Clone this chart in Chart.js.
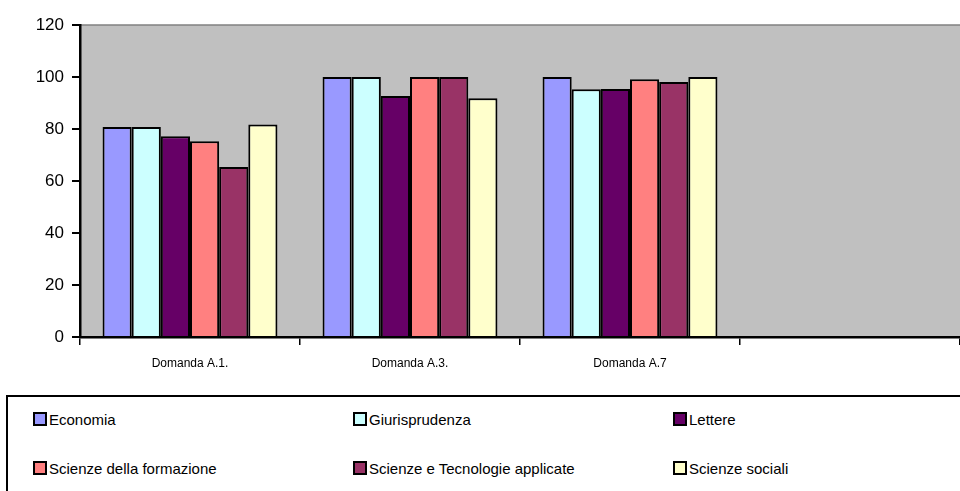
<!DOCTYPE html>
<html>
<head>
<meta charset="utf-8">
<script src="https://cdn.jsdelivr.net/npm/chart.js@4.4.1/dist/chart.umd.min.js"></script>
<style>
  body { margin: 0; background: #fff; width: 960px; height: 491px; overflow: hidden; position: relative; font-family: "Liberation Sans", Arial, sans-serif; }
  #wrap { position: absolute; left: 0; top: 0; width: 960px; height: 380px; }
  #legend { position: absolute; left: 6px; top: 395px; width: 980px; height: 120px; border: 2px solid #000; box-sizing: border-box; }
  .item { position: absolute; font-size: 15px; color: #000; line-height: 16px; white-space: nowrap; }
  .item span.box { display: inline-block; width: 10px; height: 10px; border: 2px solid #000; vertical-align: -1px; margin-right: 2px; }
</style>
</head>
<body>
<div id="wrap"><canvas id="chart"></canvas></div>
<div id="legend"></div>
<script>
// DATA
const categories = ["Domanda A.1.", "Domanda A.3.", "Domanda A.7", ""];
const seriesNames = ["Economia", "Giurisprudenza", "Lettere", "Scienze della formazione", "Scienze e Tecnologie applicate", "Scienze sociali"];
const economia = [80.8, 100, 100, null];
const giurisprudenza = [80.8, 100, 95.3, null];
const lettere = [77.2, 92.7, 95.4, null];
const formazione = [75.3, 100, 99.1, null];
const tecnologie = [65.4, 100, 98.1, null];
const sociali = [81.7, 91.8, 100, null];
const colors = ["#9999FF", "#CCFFFF", "#660066", "#FF8080", "#993366", "#FFFFCC"];

const seriesValues = [economia, giurisprudenza, lettere, formazione, tecnologie, sociali];

// gray plot background + top border
const plotBg = {
  id: "plotBg",
  beforeDraw(chart) {
    const { ctx, chartArea: a } = chart;
    ctx.save();
    ctx.fillStyle = "#C0C0C0";
    ctx.fillRect(a.left, a.top, a.right - a.left, a.bottom - a.top);
    ctx.strokeStyle = "#808080";
    ctx.lineWidth = 1.5;
    ctx.beginPath();
    ctx.moveTo(a.left, a.top);
    ctx.lineTo(a.right, a.top);
    ctx.stroke();
    ctx.restore();
  }
};

const ctx = document.getElementById("chart").getContext("2d");
new Chart(ctx, {
  type: "bar",
  data: {
    labels: categories,
    datasets: seriesNames.map((name, i) => ({
      label: name,
      data: seriesValues[i],
      backgroundColor: colors[i],
      borderColor: "#000",
      borderWidth: 2,
      categoryPercentage: 0.795,
      barPercentage: 1
    }))
  },
  options: {
    responsive: true,
    maintainAspectRatio: false,
    animation: false,
    layout: { padding: { top: 25, right: 0, left: 0, bottom: 0 } },
    plugins: { legend: { display: false }, tooltip: { enabled: false } },
    scales: {
      x: {
        grid: { display: true, drawOnChartArea: false, offset: true, tickLength: 8, color: "#000", lineWidth: 1.5 },
        border: { color: "#000", width: 2.5 },
        ticks: { color: "#000", font: { family: "Liberation Sans", size: 12 }, padding: 11, maxRotation: 0 },
        afterFit(scale) { scale.height = 43; }
      },
      y: {
        min: 0, max: 120,
        grid: { display: true, drawOnChartArea: false, tickLength: 8, color: "#000", lineWidth: 2 },
        border: { color: "#000", width: 2.5 },
        ticks: { stepSize: 20, color: "#000", font: { family: "Liberation Sans", size: 17 }, padding: 8 },
        afterFit(scale) { scale.width = 80; }
      }
    }
  },
  plugins: [plotBg]
});

// legend, 3 columns x 2 rows
const legend = document.getElementById("legend");
seriesNames.forEach((name, i) => {
  const el = document.createElement("div");
  el.className = "item";
  el.style.left = (25 + (i % 3) * 320) + "px";
  el.style.top = (15 + Math.floor(i / 3) * 49) + "px";
  el.innerHTML = '<span class="box" style="background:' + colors[i] + '"></span>' + name;
  legend.appendChild(el);
});
</script>
</body>
</html>
